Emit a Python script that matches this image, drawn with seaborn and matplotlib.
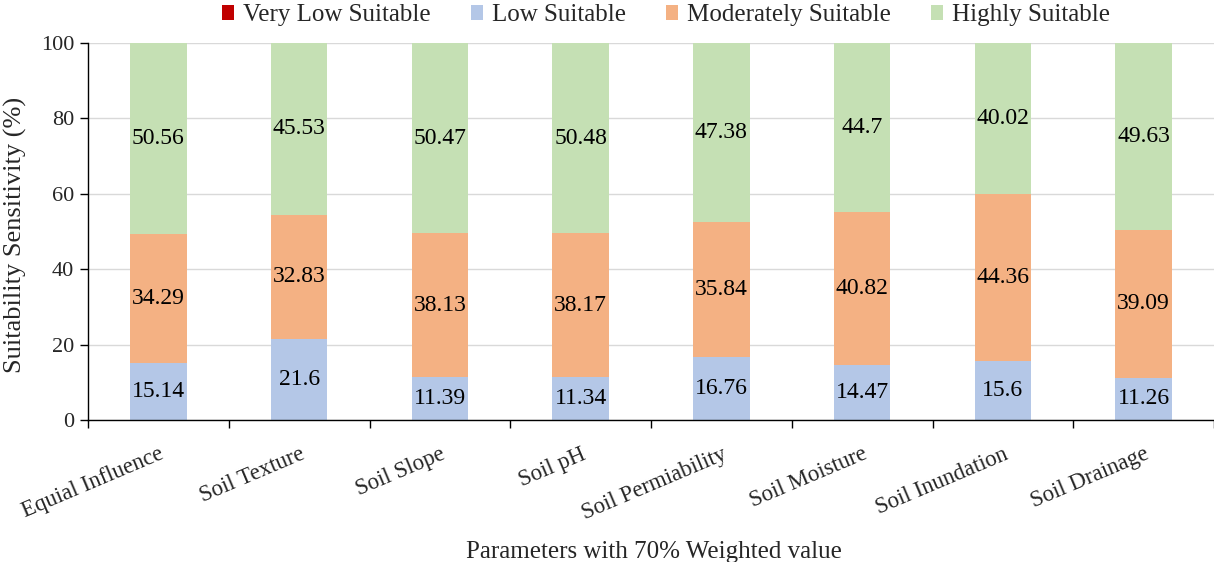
import matplotlib
matplotlib.use("Agg")
import matplotlib.pyplot as plt
from matplotlib.patches import Patch
import seaborn as sns
import numpy as np

categories = ["Equial Influence", "Soil Texture", "Soil Slope", "Soil pH",
              "Soil Permiability", "Soil Moisture", "Soil Inundation", "Soil Drainage"]
very_low = [0, 0, 0, 0, 0, 0, 0, 0]
low = [15.14, 21.6, 11.39, 11.34, 16.76, 14.47, 15.6, 11.26]
moderate = [34.29, 32.83, 38.13, 38.17, 35.84, 40.82, 44.36, 39.09]
high = [50.56, 45.53, 50.47, 50.48, 47.38, 44.7, 40.02, 49.63]
series_names = ["Very Low Suitable", "Low Suitable", "Moderately Suitable", "Highly Suitable"]
colors = ["#C00000", "#B4C7E7", "#F4B183", "#C5E0B4"]

sns.set_theme(style="white")
plt.rcParams["font.family"] = ["Liberation Serif", "DejaVu Serif"]

W, H = 1214, 562
fig = plt.figure(figsize=(W / 100, H / 100), dpi=100)
ax = fig.add_axes([88 / W, 1 - 420 / H, 1 - 88 / W, (420 - 43) / H])

ax.yaxis.grid(True, color="#D9D9D9", linewidth=1)
ax.set_axisbelow(True)

bottom = np.zeros(len(categories))
for name, vals, col in zip(series_names, [very_low, low, moderate, high], colors):
    vals = np.array(vals, dtype=float)
    sns.barplot(x=categories, y=vals, bottom=bottom, color=col, width=0.4,
                ax=ax, saturation=1, linewidth=0)
    cont = ax.containers[-1]
    if vals.sum() > 0:
        labels = [f"{v:g}" for v in vals]
        ax.bar_label(cont, labels=labels, label_type="center", fontsize=17, color="black")
    bottom += vals

ax.set_xlim(-0.5, (W - 88) / 141.7 - 0.5)
ax.set_ylim(0, 100)
ax.set_yticks([0, 20, 40, 60, 80, 100])
ax.tick_params(axis="y", labelsize=16, left=True, length=6, width=1, color="black", direction="out", pad=4)
ax.set_xticks(range(len(categories)))
ax.set_xticklabels(categories, rotation=23, ha="right", rotation_mode="anchor", fontsize=16.5)
ax.tick_params(axis="x", which="major", length=0, pad=17)
ax.set_xticks(np.arange(-0.5, len(categories), 1.0), minor=True)
ax.tick_params(axis="x", which="minor", bottom=True, length=6, width=1, color="black", direction="out")

for s in ["top", "right"]:
    ax.spines[s].set_visible(False)
for s in ["left", "bottom"]:
    ax.spines[s].set_color("black")
    ax.spines[s].set_linewidth(1)

ax.set_ylabel("Suitability Sensitivity (%)", fontsize=19)
ax.yaxis.label.set_verticalalignment("center")
ax.yaxis.set_label_coords((15 - 88) / (W - 88), 0.49)
ax.set_xlabel("Parameters with 70% Weighted value", fontsize=18)
ax.xaxis.label.set_verticalalignment("baseline")
ax.xaxis.set_label_coords((654 - 88) / (W - 88), (420 - 558) / 377)

handles = [Patch(facecolor=c, edgecolor="none") for c in colors]
fig.legend(handles, series_names, loc="center", bbox_to_anchor=(666 / W, 1 - 15 / H),
           ncol=4, frameon=False, fontsize=18, handlelength=0.5, handleheight=0.55,
           handletextpad=0.35, columnspacing=1.6, borderpad=0)

fig.savefig("out.png", dpi=100)
